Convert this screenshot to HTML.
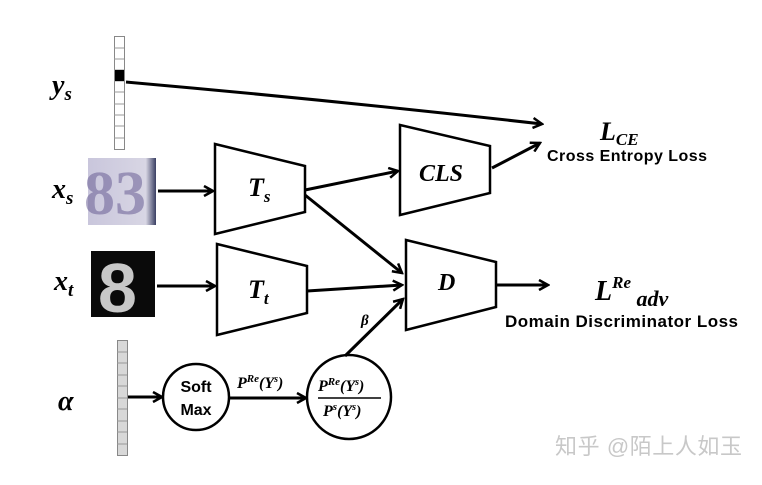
<!DOCTYPE html>
<html><head><meta charset="utf-8"><style>
body{margin:0;background:#fff}
svg text{font-family:"Liberation Serif",serif}
</style></head><body>
<svg width="762" height="480" viewBox="0 0 762 480" xmlns="http://www.w3.org/2000/svg">
<defs>
<marker id="a" markerWidth="12" markerHeight="12" refX="10" refY="6" orient="auto" markerUnits="userSpaceOnUse">
<path d="M1,1 L10,6 L1,11" fill="none" stroke="#000" stroke-width="2.5"/>
</marker>
<linearGradient id="g1" x1="0" x2="1"><stop offset="0" stop-color="#c9c6dc"/><stop offset="0.85" stop-color="#d8d6e4"/><stop offset="1" stop-color="#3a3f63"/></linearGradient>
</defs>
<rect x="114.5" y="36.5" width="10" height="113" fill="#fff" stroke="#888"/>
<g stroke="#999" stroke-width="1">
<line x1="114" y1="48" x2="124" y2="48"/><line x1="114" y1="59" x2="124" y2="59"/><line x1="114" y1="70" x2="124" y2="70"/><line x1="114" y1="81" x2="124" y2="81"/><line x1="114" y1="92" x2="124" y2="92"/><line x1="114" y1="104" x2="124" y2="104"/><line x1="114" y1="115" x2="124" y2="115"/><line x1="114" y1="126" x2="124" y2="126"/><line x1="114" y1="138" x2="124" y2="138"/>
</g>
<rect x="115" y="70" width="9" height="11" fill="#000"/>
<rect x="117.5" y="340.5" width="10" height="115" fill="#d8d8d8" stroke="#888"/>
<g stroke="#999">
<line x1="117" y1="352" x2="127" y2="352"/><line x1="117" y1="363" x2="127" y2="363"/><line x1="117" y1="375" x2="127" y2="375"/><line x1="117" y1="386" x2="127" y2="386"/><line x1="117" y1="398" x2="127" y2="398"/><line x1="117" y1="409" x2="127" y2="409"/><line x1="117" y1="421" x2="127" y2="421"/><line x1="117" y1="432" x2="127" y2="432"/><line x1="117" y1="444" x2="127" y2="444"/>
</g>
<rect x="88" y="158" width="68" height="67" fill="url(#g1)"/>
<text x="84" y="214" font-size="62" font-weight="bold" fill="#6a5f95" opacity="0.55" font-family="Liberation Sans">83</text>
<rect x="91" y="251" width="64" height="66" fill="#0a0a0a"/>
<text x="98" y="312" font-size="70" font-weight="bold" fill="#c8c8c8" style="font-family:'Liberation Sans',sans-serif">8</text>
<g font-style="italic" font-weight="bold" font-size="28">
<text x="52" y="94">y<tspan font-size="19" dy="6">s</tspan></text>
<text x="52" y="198">x<tspan font-size="19" dy="6">s</tspan></text>
<text x="54" y="290">x<tspan font-size="19" dy="6">t</tspan></text>
<text x="58" y="410">α</text>
</g>
<g fill="#fff" stroke="#000" stroke-width="2.5">
<polygon points="215,144 305,166 305,212 215,234"/>
<polygon points="217,244 307,266 307,313 217,335"/>
<polygon points="400,125 490,146 490,193 400,215"/>
<polygon points="406,240 496,262 496,307 406,330"/>
<circle cx="196" cy="397" r="33"/>
<circle cx="349" cy="397" r="42"/>
</g>
<g font-style="italic" font-weight="bold">
<text x="248" y="196" font-size="26">T<tspan font-size="17" dy="6">s</tspan></text>
<text x="248" y="298" font-size="26">T<tspan font-size="17" dy="6">t</tspan></text>
<text x="419" y="181" font-size="24">CLS</text>
<text x="438" y="290" font-size="24">D</text>
<text x="361" y="325" font-size="15">β</text>
<text x="600" y="140" font-size="26">L<tspan font-size="17" dy="5">CE</tspan></text>
<text x="595" y="300" font-size="28">L<tspan font-size="17" dy="-12">Re</tspan><tspan font-size="22" dy="18"> adv</tspan></text>
<text x="237" y="388" font-size="16">P<tspan font-size="11" dy="-6">Re</tspan><tspan dy="6">(Y</tspan><tspan font-size="10" dy="-6">s</tspan><tspan dy="6">)</tspan></text>
<text x="318" y="391" font-size="16">P<tspan font-size="11" dy="-6">Re</tspan><tspan dy="6">(Y</tspan><tspan font-size="10" dy="-6">s</tspan><tspan dy="6">)</tspan></text>
<text x="323" y="416" font-size="16">P<tspan font-size="11" dy="-6">s</tspan><tspan dy="6">(Y</tspan><tspan font-size="10" dy="-6">s</tspan><tspan dy="6">)</tspan></text>
</g>
<line x1="318" y1="398" x2="381" y2="398" stroke="#000" stroke-width="1.5"/>
<g font-weight="bold" font-size="16" text-anchor="middle">
<text x="196" y="392" style="font-family:'Liberation Sans',sans-serif">Soft</text>
<text x="196" y="415" style="font-family:'Liberation Sans',sans-serif">Max</text>
</g>
<g font-weight="bold">
<text x="547" y="161" font-size="16" textLength="160" style="font-family:'Liberation Sans',sans-serif">Cross Entropy Loss</text>
<text x="505" y="327" font-size="17" textLength="233" style="font-family:'Liberation Sans',sans-serif">Domain Discriminator Loss</text>
</g>
<g stroke="#000" stroke-width="3" fill="none" marker-end="url(#a)">
<path d="M126,82 Q330,100 542,124"/>
<line x1="158" y1="191" x2="213" y2="191"/>
<line x1="157" y1="286" x2="215" y2="286"/>
<line x1="305" y1="190" x2="398" y2="171"/>
<line x1="305" y1="195" x2="402" y2="273"/>
<line x1="307" y1="291" x2="402" y2="285"/>
<line x1="345" y1="356" x2="403" y2="299"/>
<line x1="492" y1="168" x2="540" y2="143"/>
<line x1="496" y1="285" x2="548" y2="285"/>
<line x1="128" y1="397" x2="162" y2="397"/>
<line x1="229" y1="398" x2="306" y2="398"/>
</g>
<text x="555" y="454" font-size="22" fill="#c8c8c8" textLength="187" style="font-family:'Liberation Sans','Noto Sans CJK SC',sans-serif">知乎 @陌上人如玉</text>
</svg>
</body></html>
